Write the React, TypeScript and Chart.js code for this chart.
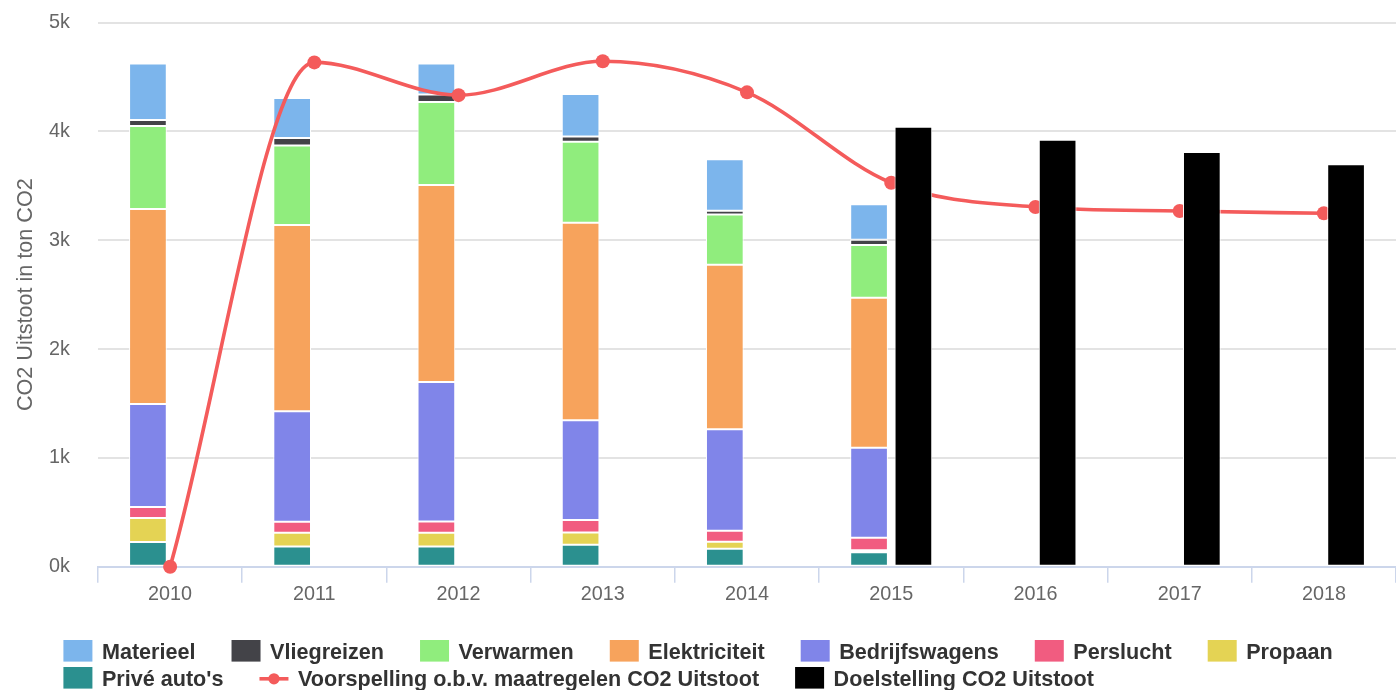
import React, { useEffect, useRef } from 'react';
import { Chart, registerables } from 'chart.js';

Chart.register(...registerables);

// ---- data (tons CO2) ----
const years = ['2010', '2011', '2012', '2013', '2014', '2015', '2016', '2017', '2018'];
const priveAutos = [227, 186, 186, 201, 165, 132, null, null, null];
const propaan = [221, 127, 127, 113, 65, 19, null, null, null];
const perslucht = [101, 99, 102, 115, 100, 115, null, null, null];
const bedrijfswagens = [946, 1017, 1283, 917, 933, 828, null, null, null];
const elektriciteit = [1793, 1711, 1810, 1815, 1512, 1378, null, null, null];
const verwarmen = [762, 731, 763, 745, 462, 485, null, null, null];
const vliegreizen = [55, 69, 68, 47, 34, 49, null, null, null];
const materieel = [521, 369, 287, 391, 474, 325, null, null, null];
const voorspelling = [0, 4635, 4334, 4645, 4360, 3529, 3306, 3269, 3248];
const doelstelling = [null, null, null, null, null, 4044, 3925, 3812, 3698];
const yTicks = [0, 1000, 2000, 3000, 4000, 5000];

const legendOrder = [
  'Materieel', 'Vliegreizen', 'Verwarmen', 'Elektriciteit', 'Bedrijfswagens',
  'Perslucht', 'Propaan', "Privé auto's",
  'Voorspelling o.b.v. maatregelen CO2 Uitstoot', 'Doelstelling CO2 Uitstoot',
];

const FONT = '"Liberation Sans", Arial, Helvetica, sans-serif';

export default function App() {
  const ref = useRef<HTMLCanvasElement | null>(null);

  useEffect(() => {
    document.body.style.margin = '0';
    const canvas = ref.current;
    if (!canvas) return;

    Chart.defaults.font.family = FONT;

    const stackedDefs = [
      { label: "Privé auto's", data: priveAutos, color: '#2b908f' },
      { label: 'Propaan', data: propaan, color: '#e4d354' },
      { label: 'Perslucht', data: perslucht, color: '#f15c80' },
      { label: 'Bedrijfswagens', data: bedrijfswagens, color: '#8085e9' },
      { label: 'Elektriciteit', data: elektriciteit, color: '#f7a35c' },
      { label: 'Verwarmen', data: verwarmen, color: '#90ed7d' },
      { label: 'Vliegreizen', data: vliegreizen, color: '#434348' },
      { label: 'Materieel', data: materieel, color: '#7cb5ec' },
    ];

    const datasets: any[] = [
      // empty slot holder so the 'main' stack keeps the left position
      { type: 'bar', label: '', data: [], stack: 'main', order: -1 },
      ...stackedDefs.map((d) => ({
        type: 'bar',
        label: d.label,
        data: d.data,
        backgroundColor: d.color,
        borderColor: '#ffffff',
        borderWidth: 1,
        borderSkipped: false,
        stack: 'main',
        order: 2,
      })),
      {
        type: 'line',
        label: 'Voorspelling o.b.v. maatregelen CO2 Uitstoot',
        data: voorspelling,
        borderColor: '#f45b5b',
        backgroundColor: '#f45b5b',
        borderWidth: 3.6,
        pointRadius: 7,
        pointHoverRadius: 7,
        pointBackgroundColor: '#f45b5b',
        pointBorderWidth: 0,
        cubicInterpolationMode: 'monotone',
        clip: false,
        order: 1,
      },
      {
        type: 'bar',
        label: 'Doelstelling CO2 Uitstoot',
        data: doelstelling,
        backgroundColor: '#000000',
        borderColor: '#ffffff',
        borderWidth: 1,
        borderSkipped: false,
        stack: 'target',
        order: 0,
      },
    ];

    const legendPlugin = {
      id: 'hcLegend',
      afterDraw(chart: any) {
        const ctx = chart.ctx as CanvasRenderingContext2D;
        ctx.save();
        ctx.font = `bold 21.6px ${FONT}`;
        const symW = 29;
        const symH = 21.6;
        const symPad = 9.5;
        const itemDist = 36;
        const items = legendOrder.map((name) => {
          const ds = chart.data.datasets.find((d: any) => d.label === name);
          return {
            label: name,
            color: ds.type === 'line' ? ds.borderColor : ds.backgroundColor,
            kind: ds.type,
            w: symW + symPad + ctx.measureText(name).width,
          };
        });
        const maxW = chart.width - 40;
        const rows: { items: any[]; w: number }[] = [];
        let cur: any[] = [];
        let curW = 0;
        for (const it of items) {
          const add = (cur.length ? itemDist : 0) + it.w;
          if (cur.length && curW + add > maxW) {
            rows.push({ items: cur, w: curW });
            cur = [];
            curW = 0;
          }
          curW += (cur.length ? itemDist : 0) + it.w;
          cur.push(it);
        }
        if (cur.length) rows.push({ items: cur, w: curW });
        const boxW = Math.max(...rows.map((r) => r.w));
        const startX = (chart.width - boxW) / 2;
        const firstY = chart.height - 39.2;
        rows.forEach((row, r) => {
          const cy = firstY + r * 27;
          let x = startX;
          for (const it of row.items) {
            if (it.kind === 'line') {
              ctx.strokeStyle = it.color;
              ctx.lineWidth = 3.6;
              ctx.beginPath();
              ctx.moveTo(x, cy + 1);
              ctx.lineTo(x + symW, cy + 1);
              ctx.stroke();
              ctx.fillStyle = it.color;
              ctx.beginPath();
              ctx.arc(x + symW / 2, cy + 1, 5.6, 0, Math.PI * 2);
              ctx.fill();
            } else {
              ctx.fillStyle = it.color;
              ctx.fillRect(x, cy - symH / 2, symW, symH);
            }
            ctx.fillStyle = '#333333';
            ctx.textBaseline = 'alphabetic';
            ctx.textAlign = 'left';
            ctx.fillText(it.label, x + symW + symPad, cy + 8.5);
            x += it.w + itemDist;
          }
        });
        ctx.restore();
      },
    };

    const chart = new Chart(canvas, {
      type: 'bar',
      data: { labels: years, datasets },
      options: {
        responsive: false,
        animation: false,
        events: [],
        datasets: {
          bar: { categoryPercentage: 0.615, barPercentage: 0.85 },
        },
        layout: { autoPadding: false, padding: { top: 22.7, right: 0, bottom: 73.3, left: 0 } },
        plugins: {
          legend: { display: false },
          tooltip: { enabled: false },
        },
        scales: {
          x: {
            stacked: true,
            offset: true,
            grid: {
              display: true,
              drawOnChartArea: false,
              drawTicks: true,
              tickLength: 16,
              color: '#ccd6eb',
              lineWidth: 1.5,
              offset: true,
            },
            border: { display: true, color: '#ccd6eb', width: 2 },
            ticks: {
              color: '#666666',
              font: { size: 19.8, family: FONT },
              padding: 0,
              maxRotation: 0,
              autoSkip: false,
            },
            afterFit: (s: any) => {
              s.height = 50;
            },
          },
          y: {
            stacked: true,
            min: 0,
            max: 5000,
            afterBuildTicks: (s: any) => {
              s.ticks = yTicks.map((v) => ({ value: v }));
            },
            ticks: {
              callback: (v: any) => `${Number(v) / 1000}k`,
              color: '#666666',
              font: { size: 19.8, family: FONT },
              padding: 0,
            },
            grid: {
              color: '#e3e3e3',
              lineWidth: 2,
              drawTicks: true,
              tickLength: 28,
              tickColor: 'rgba(0,0,0,0)',
            },
            border: { display: false },
            title: {
              display: true,
              text: 'CO2 Uitstoot in ton CO2',
              color: '#666666',
              font: { size: 21.6, family: FONT },
              padding: { top: 13, bottom: 0 },
            },
            afterFit: (s: any) => {
              s.width = 98;
            },
          },
        },
      } as any,
      plugins: [legendPlugin],
    });

    return () => {
      chart.destroy();
    };
  }, []);

  return <canvas ref={ref} width={1396} height={690} style={{ display: 'block' }} />;
}
